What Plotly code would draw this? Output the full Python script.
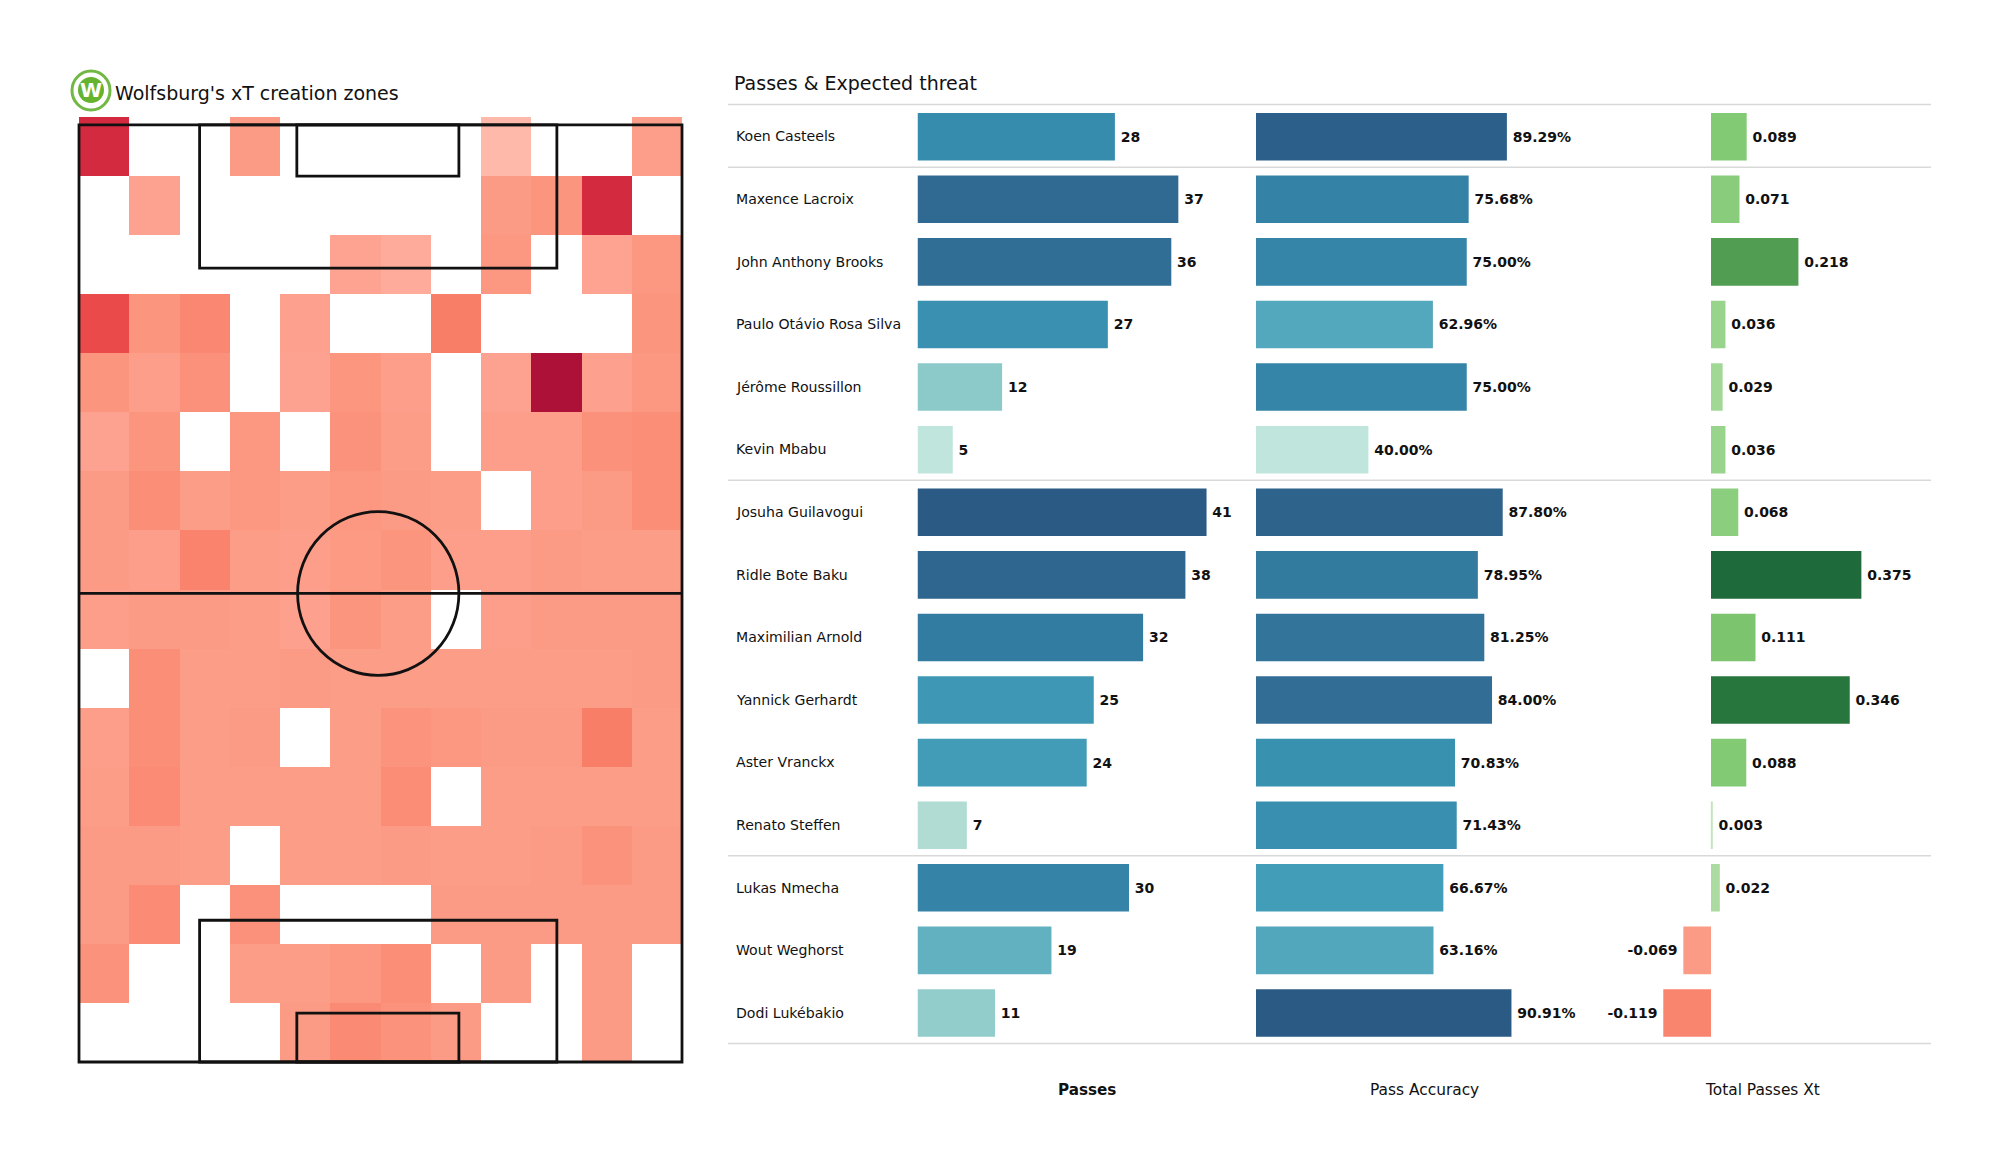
import plotly.graph_objects as go

W, H = 2000, 1175

players = ["Koen Casteels", "Maxence Lacroix", "John Anthony Brooks", "Paulo Otávio Rosa Silva",
           "Jérôme Roussillon", "Kevin Mbabu", "Josuha Guilavogui", "Ridle Bote Baku",
           "Maximilian Arnold", "Yannick Gerhardt", "Aster Vranckx", "Renato Steffen",
           "Lukas Nmecha", "Wout Weghorst", "Dodi Lukébakio"]
passes = [28, 37, 36, 27, 12, 5, 41, 38, 32, 25, 24, 7, 30, 19, 11]
accuracy = [89.29, 75.68, 75.00, 62.96, 75.00, 40.00, 87.80, 78.95, 81.25, 84.00, 70.83, 71.43, 66.67, 63.16, 90.91]
xt = [0.089, 0.071, 0.218, 0.036, 0.029, 0.036, 0.068, 0.375, 0.111, 0.346, 0.088, 0.003, 0.022, -0.069, -0.119]

N = None
heat_rows = [
    [.75, N, N, .20, N, N, N, N, .00, N, N, .17],
    [N, .13, N, N, N, N, N, N, .20, .25, .75, N],
    [N, N, N, N, N, .12, .07, N, .22, N, .12, .22],
    [.55, .25, .35, N, .15, N, N, .42, N, N, N, .25],
    [.25, .17, .28, N, .13, .24, .17, N, .13, 1.0, .15, .22],
    [.13, .25, N, .23, N, .27, .18, N, .17, .17, .28, .30],
    [.20, .30, .18, .22, .18, .22, .20, .18, N, .17, .20, .30],
    [.20, .17, .38, .18, .17, .21, .25, .17, .17, .20, .18, .18],
    [.17, .20, .20, .18, .15, .25, .18, N, .17, .20, .20, .20],
    [N, .30, .18, .18, .20, .18, .18, .18, .18, .18, .18, .20],
    [.17, .30, .18, .20, N, .18, .26, .22, .20, .20, .42, .18],
    [.18, .32, .18, .18, .18, .18, .31, N, .18, .18, .18, .18],
    [.20, .20, .18, N, .18, .18, .20, .18, .18, .20, .27, .20],
    [.20, .32, N, .28, N, N, N, .20, .20, .20, .20, .20],
    [.27, N, N, .18, .18, .22, .30, N, .20, N, .20, N],
    [N, N, N, N, .20, .33, .27, .20, N, N, .20, N],
]

heat_scale = [[0, "#feb9ab"], [.10, "#fea595"], [.20, "#fc9b85"], [.30, "#fb8e77"], [.45, "#f87a64"],
              [.55, "#ea4a4a"], [.75, "#d32a3f"], [1, "#ae1138"]]
blue_scale = [[0, "#bfe5dc"], [.056, "#b0dcd4"], [.167, "#92cdcb"], [.39, "#62b1c1"], [.53, "#419cb8"],
              [.64, "#368cad"], [.75, "#337ca1"], [.86, "#316e95"], [1, "#2b5a85"]]
xt_scale = [[0, "#f9826c"], [.112, "#fc9b85"], [.2499, "#fdb5a5"], [.25, "#c8e6c0"], [.322, "#98d48c"],
            [.428, "#82ca74"], [.472, "#7cc46e"], [.686, "#519d52"], [.942, "#27763d"], [1, "#1f6a3a"]]

FONT = "DejaVu Sans"
INK = "#111111"
GAP = "\u2009"


def px(v):
    return v / W


def py(v):
    return 1 - v / H


fig = go.Figure()

# heat map, on a 80 x 120 pitch
fig.add_trace(go.Heatmap(z=heat_rows[::-1], x0=80 / 24, dx=80 / 12, y0=120 / 32, dy=120 / 16,
                         colorscale=heat_scale, zmin=0, zmax=1, showscale=False,
                         hoverongaps=False, xaxis="x", yaxis="y"))

xt_labels = [f"{GAP}{v:.3f}" if v >= 0 else f"{v:.3f}{GAP}" for v in xt]
columns = [("x2", "y2", passes, [GAP + str(v) for v in passes], blue_scale, min(passes), max(passes)),
           ("x3", "y3", accuracy, [f"{GAP}{v:.2f}%" for v in accuracy], blue_scale, min(accuracy), max(accuracy)),
           ("x4", "y4", xt, xt_labels, xt_scale, -0.125, 0.375)]
for xa, ya, vals, labels, scale, lo, hi in columns:
    fig.add_trace(go.Bar(x=vals, y=players, orientation="h", text=labels, textposition="outside",
                         cliponaxis=False, constraintext="none",
                         textfont=dict(family=FONT, size=14, color=INK, weight="bold"),
                         marker=dict(color=vals, colorscale=scale, cmin=lo, cmax=hi, line_width=0),
                         xaxis=xa, yaxis=ya, showlegend=False))

hidden = dict(visible=False, fixedrange=True)
row_axis = dict(hidden, type="category", categoryorder="array", categoryarray=players, range=[14.5, -0.5],
                domain=[py(1044.3), py(105.4)])
fig.update_layout(
    width=W, height=H, margin=dict(l=0, r=0, t=0, b=0), paper_bgcolor="white", plot_bgcolor="white",
    showlegend=False, bargap=0.24, font=dict(family=FONT, color=INK),
    xaxis=dict(hidden, range=[-2, 82], domain=[px(79 - 2 * 7.5375), px(682 + 2 * 7.5375)]),
    yaxis=dict(hidden, range=[-1, 121], domain=[py(1062 + 7.875), py(117 - 7.875)]),
    xaxis2=dict(hidden, range=[0, 48], domain=[px(917.5), px(917.5 + 48 * 7.05)], anchor="y2"),
    yaxis2=dict(row_axis, anchor="x2"),
    xaxis3=dict(hidden, range=[0, 120], domain=[px(1256), px(1256 + 120 * 2.81)], anchor="y3"),
    yaxis3=dict(row_axis, anchor="x3"),
    xaxis4=dict(hidden, range=[-0.2, 0.5], domain=[px(1711 - 0.2 * 401), px(1711 + 0.5 * 401)], anchor="y4"),
    yaxis4=dict(row_axis, anchor="x4"),
)

shapes = []
line = dict(color=INK, width=2.8)
for x0, y0, x1, y1 in [(0, 0, 80, 119), (16, 0, 63.4, 18), (16, 100.8, 63.4, 119),
                       (28.9, 0, 50.4, 6.2), (28.9, 112.5, 50.4, 119)]:
    shapes.append(dict(type="rect", xref="x", yref="y", x0=x0, y0=y0, x1=x1, y1=y1, line=line))
shapes.append(dict(type="line", xref="x", yref="y", x0=0, x1=80, y0=59.5, y1=59.5, line=line))
shapes.append(dict(type="circle", xref="x", yref="y", x0=39.7 - 10.7, x1=39.7 + 10.7, y0=59.5 - 10.4, y1=59.5 + 10.4, line=line))
for row in (0, 1, 6, 12, 15):
    y = 104.6 + row * 62.6
    shapes.append(dict(type="line", xref="paper", yref="paper", x0=px(728), x1=px(1931), y0=py(y), y1=py(y),
                       line=dict(color="#d9d9d9", width=1.5)))
# club badge
shapes.append(dict(type="circle", xref="paper", yref="paper", x0=px(72), x1=px(110), y0=py(110), y1=py(71),
                   line=dict(color="#72b844", width=3), fillcolor="white"))
shapes.append(dict(type="circle", xref="paper", yref="paper", x0=px(78), x1=px(104), y0=py(103), y1=py(77),
                   line_width=0, fillcolor="#65b32e"))
fig.update_layout(shapes=shapes)


def note(text, x, y, size, anchor="left", bold=False, color=INK):
    fig.add_annotation(text=text, xref="paper", yref="paper", x=px(x), y=py(y), showarrow=False,
                       xanchor=anchor, yanchor="middle",
                       font=dict(family=FONT, size=size, color=color, weight="bold" if bold else "normal"))


note("W", 91, 89.5, 20, anchor="center", bold=True, color="white")
note("Wolfsburg's xT creation zones", 113, 93, 19)
note("Passes & Expected threat", 732, 83, 19)
for i, name in enumerate(players):
    note(name, 734, 105 + (i + 0.5) * 62.6, 14.1)
note("Passes", 1087, 1090, 15.2, anchor="center", bold=True)
note("Pass Accuracy", 1424, 1090, 15.4, anchor="center")
note("Total Passes Xt", 1762, 1090, 15.4, anchor="center")

fig.write_html("out.html", post_script="document.body.style.margin='0';", config={"displayModeBar": False})
